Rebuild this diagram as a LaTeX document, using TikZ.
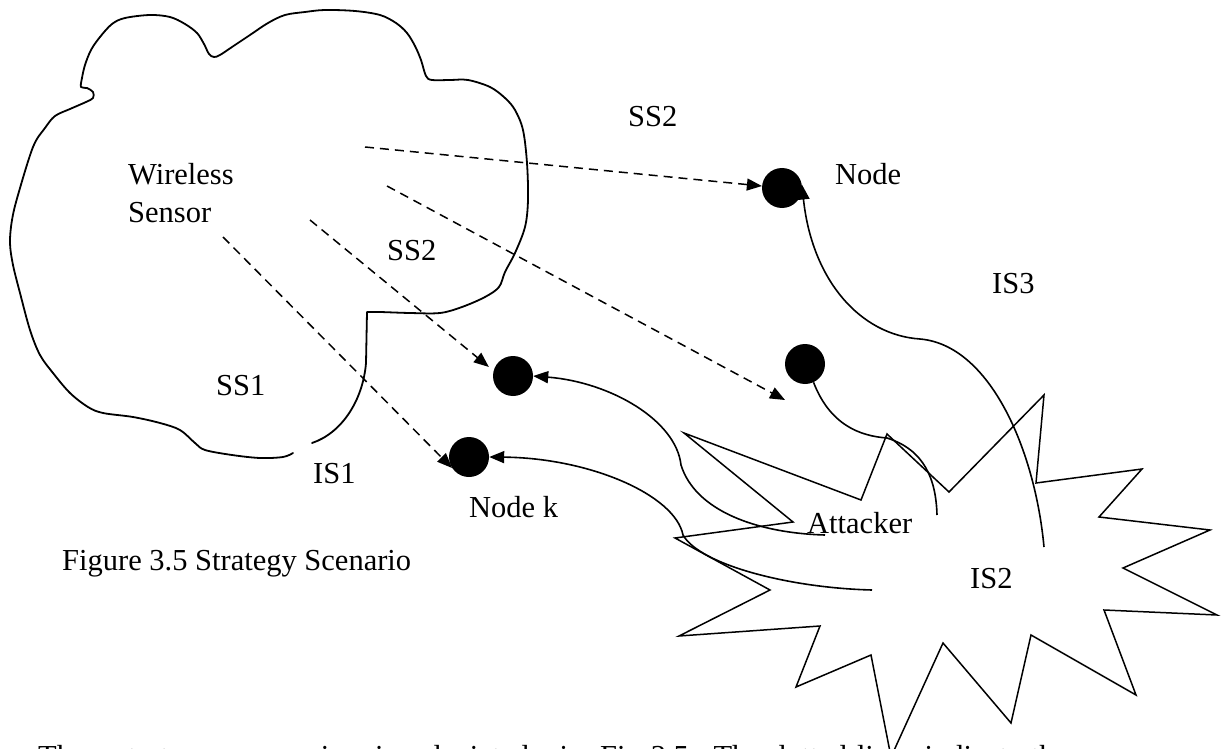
\documentclass[tikz,border=0pt]{standalone}
\usepackage{fontspec}
\setmainfont{Liberation Serif}
\usetikzlibrary{arrows.meta}
\begin{document}
\begin{tikzpicture}[x=1pt,y=-1pt,
  lbl/.style={anchor=base west, inner sep=0pt, font=\fontsize{30.5}{36}\selectfont},
  dot/.style={circle, fill=black, minimum size=40pt, inner sep=0pt},
  outline/.style={line width=1.8pt, line join=round, line cap=round},
  spark/.style={line width=1.5pt, line join=miter},
  trail/.style={line width=1.6pt},
  link/.style={trail, -{Triangle[length=15pt,width=12pt]}},
  signal/.style={line width=1.5pt, dash pattern=on 9pt off 6pt, -{Triangle[length=15pt,width=12pt]}}]

\useasboundingbox (0,0) rectangle (1221,749);
\clip (0,0) rectangle (1221,749);
\fill[white] (0,0) rectangle (1221,749);

% sensor field outline
\draw[outline] plot[smooth, tension=0.55] coordinates {
  (293,453) (283,457) (260,458) (232,455) (205,450) (195,443) (180,430)
  (160,423) (133,417) (103,413) (88,407) (70,393) (53,373) (40,355)
  (30,330) (20,293) (13,265) (10,243) (12,220) (18,195) (33,147)
  (45,128) (55,116) (70,109) (86,102) (93,98) (93,92) (87,88) (81,87)
  (82,78) (85,65) (91,50) (100,37) (112,24) (125,18) (150,15) (170,17)
  (185,24) (197,33) (204,44) (209,54) (214,57) (220,55) (232,47)
  (250,35) (268,23) (285,15) (305,12) (325,10) (355,11) (380,15)
  (396,23) (407,33) (415,46) (421,60) (426,76) (432,80) (450,80)
  (468,80) (490,87) (505,98) (515,110) (523,130) (527,163) (528,200)
  (525,227) (515,253) (505,272) (499,287) (485,297) (462,307)
  (440,313) (410,313) (380,312) (367,312)}
  -- (366,363) .. controls (363,400) and (342,433) .. (312,443);

% attacker burst
\draw[spark] (684,433) -- (861,500) -- (887,434) -- (949,492) -- (1044,395)
  -- (1036,483) -- (1142,469) -- (1099,517) -- (1210,530) -- (1123,568)
  -- (1217,615) -- (1104,610) -- (1136,695) -- (1031,635) -- (1011,723)
  -- (943,643) -- (891,757) -- (871,655) -- (796,687) -- (820,626)
  -- (679,636) -- (770,590) -- (675,538) -- (793,522) -- cycle;

% sensor nodes
\node[dot] (n1) at (782,188) {};
\node[dot] (n2) at (513,376) {};
\node[dot] (nk) at (469,457) {};
\node[dot] (n4) at (805,364) {};

% labels
\node[lbl] (wl)   at (128,185) {Wireless};
\node[lbl] (sn)   at (128,222) {Sensor};
\node[lbl] (ss1)  at (216,395) {SS1};
\node[lbl] (ss2a) at (628,127) {SS2};
\node[lbl] (ss2b) at (387,260) {SS2};
\node[lbl] (is1)  at (313,483) {IS1};
\node[lbl] (nkl)  at (469,517) {Node k};
\node[lbl] (n1l)  at (835,185) {Node};
\node[lbl] (is3)  at (992,293) {IS3};
\node[lbl] (att)  at (807,533) {Attacker};
\node[lbl] (is2)  at (970,588) {IS2};
\node[lbl] (cap)  at (62,570) {Figure 3.5 Strategy Scenario};
% running text below the figure (justified line)
\node[lbl] (bodya) at (38,766) {\makebox[545pt][s]{The strategy scenario is depicted in}};
\node[lbl] (bodyb) at (600,766) {\makebox[468pt][s]{Fig 3.5. The dotted lines indicate the}};

% dashed signal paths from the sensor field
\coordinate (s1) at (365,147);
\coordinate (s2) at (387,186);
\coordinate (t2) at (785,400);
\coordinate (s3) at (310,220);
\coordinate (s4) at (223,237);
\draw[signal] (s1) -- (n1);
\draw[signal] (s2) -- (t2);
\draw[signal, shorten >=6pt] (s3) -- (n2.165);
\draw[signal] (s4) -- (nk.213);

% attacker paths
\coordinate (a1) at (1044,547);
\coordinate (a2) at (825,535);
\coordinate (ak) at (872,590);
\coordinate (a4) at (937,515);
\draw[link] (a1) .. controls (1035,450) and (990,345) .. (920,339)
  .. controls (860,335) and (812,280) .. (n1.10);
\draw[link] (a2) .. controls (755,533) and (695,510) .. (681,465)
  .. controls (676,420) and (610,382) .. (n2.east);
\draw[link] (ak) .. controls (790,588) and (700,565) .. (683,535)
  .. controls (675,495) and (590,458) .. (nk.east);
\draw[trail] (n4.-65) .. controls (830,425) and (860,436) .. (887,438)
  .. controls (925,450) and (936,480) .. (a4);

\end{tikzpicture}
\end{document}
